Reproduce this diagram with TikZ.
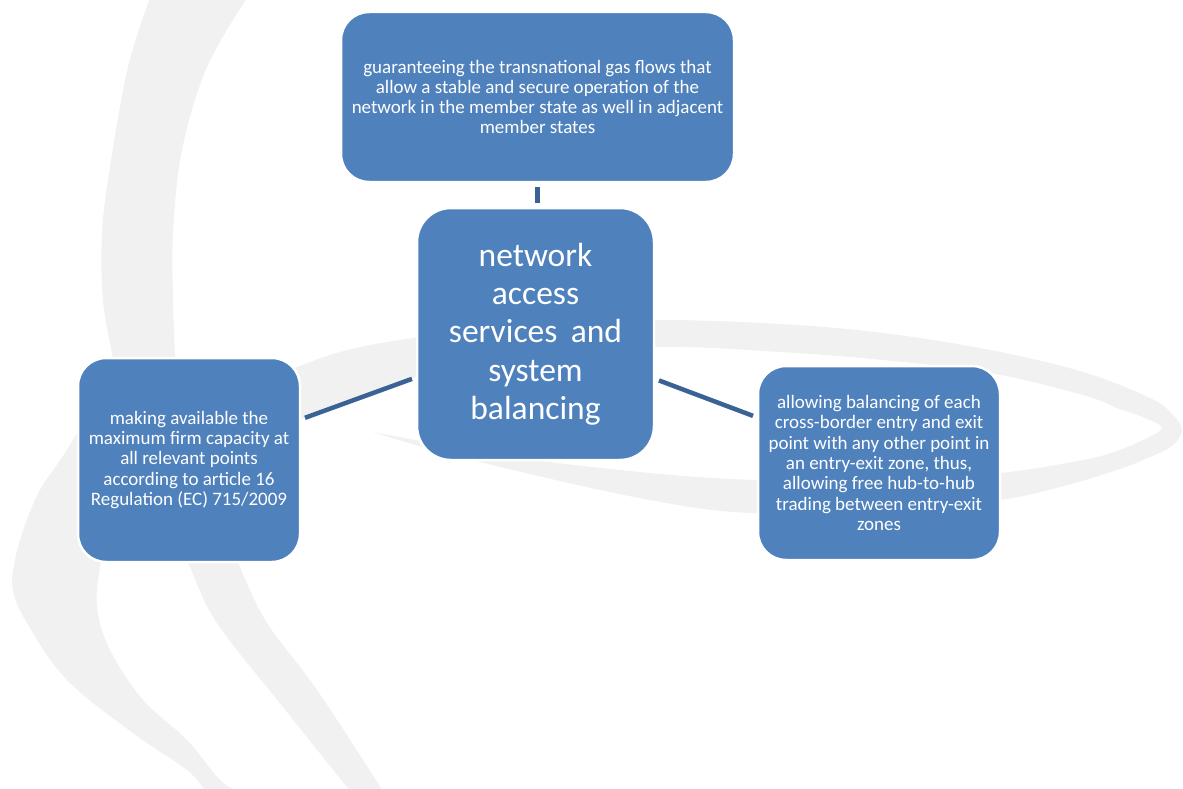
\documentclass[tikz,border=0pt]{standalone}
\usepackage{fontspec}
\setmainfont{Carlito}
\definecolor{boxblue}{HTML}{4F81BD}
\definecolor{linkblue}{HTML}{3A6294}
\definecolor{swoosh}{HTML}{F1F1F1}
\begin{document}
\begin{tikzpicture}[x=1pt,y=-1pt,
  box/.style={draw=white, line width=2.5pt, fill=boxblue, rounded corners=28pt,
    text=white, align=center, inner sep=0pt,
    font=\fontsize{19}{20.3}\selectfont},
  bigbox/.style={box, rounded corners=34pt, font=\fontsize{33.5}{38.3}\selectfont},
  link/.style={draw=linkblue, line width=4.5pt, shorten <=4pt, shorten >=4pt}]
\useasboundingbox (0,0) rectangle (1183,789);
\fill[white] (0,0) rectangle (1183,789);
% background swooshes
\fill[swoosh] plot[smooth, tension=0.6] coordinates {(150,-2) (128,67) (110,167) (102,233) (103,300) (112,353) (118,380)}
  -- plot[smooth, tension=0.6] coordinates {(178,380) (175,353) (173,300) (173,233) (182,150) (207,67) (247,-2)} -- cycle;
\fill[swoosh] plot[smooth, tension=0.6] coordinates {(82,425) (63,456) (40,490) (25,525) (15,560) (13,590) (27,623) (67,680) (133,733) (187,770) (205,791)}
  -- plot[smooth, tension=0.6] coordinates {(238,791) (220,780) (187,740) (143,700) (110,650) (97,607) (100,567) (106,545) (110,470)} -- cycle;
\fill[swoosh] plot[smooth, tension=0.6] coordinates {(185,555) (190,567) (217,623) (283,707) (350,791)}
  -- plot[smooth, tension=0.6] coordinates {(383,791) (317,690) (267,623) (240,567) (238,555)} -- cycle;
\fill[swoosh] plot[smooth, tension=0.6] coordinates {(280,374) (340,352) (413,338) (530,324) (657,320) (780,324) (883,333) (990,350) (1083,372) (1150,398) (1172,414) (1182,430) (1172,446) (1150,457) (1117,470) (1060,487) (1000,500) (900,510) (753,513) (650,500) (513,470) (420,446) (373,432)}
  -- plot[smooth, tension=0.6] coordinates {(373,432) (513,457) (650,473) (753,480) (870,482) (1000,473) (1083,460) (1117,451) (1145,439) (1162,428) (1145,418) (1117,408) (1083,395) (990,373) (883,360) (780,352) (657,347) (530,358) (413,378) (305,418) (285,426)} -- cycle;
% boxes
\node[box, minimum width=393pt, minimum height=170pt] (top) at (537.5,97)
  {guaranteeing the transnational gas flows that\\allow a stable and secure operation of the\\network in the member state as well in adjacent\\member states};
\node[bigbox, minimum width=237pt, minimum height=252pt] (center) at (535.5,334)
  {network\\access\\services\hspace{0.4em}and\\system\\balancing};
\node[box, minimum width=222pt, minimum height=204pt] (left) at (189,460)
  {making available the\\maximum firm capacity at\\all relevant points\\according to article 16\\Regulation (EC) 715/2009};
\node[box, minimum width=242pt, minimum height=194pt] (right) at (879,463)
  {allowing balancing of each\\cross-border entry and exit\\point with any other point in\\an entry-exit zone, thus,\\allowing free hub-to-hub\\trading between entry-exit\\zones};
% connectors
\draw[link] (top.south) -- (top.south |- center.north);
\draw[link] (left) -- (center);
\draw[link] (center) -- (right);
\end{tikzpicture}
\end{document}
